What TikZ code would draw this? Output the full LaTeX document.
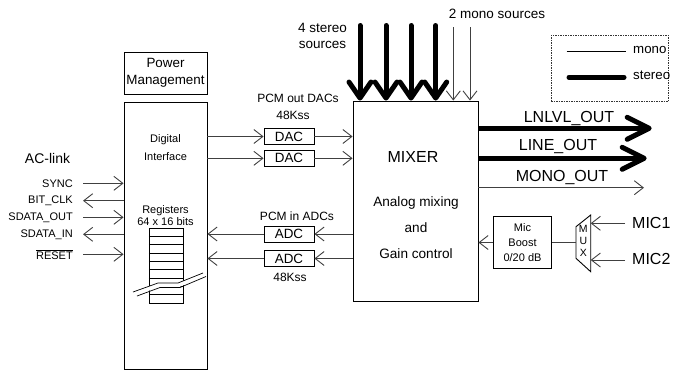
\documentclass[tikz,border=0pt]{standalone}
\usepackage{fontspec}
\setmainfont{Liberation Sans}
\usetikzlibrary{arrows.meta}
\newcommand\fsz[2]{\fontsize{#1}{#2}\selectfont}
\begin{document}
\begin{tikzpicture}[x=1pt,y=-1pt,
  box/.style={draw=black, line width=0.9pt, inner sep=0pt},
  txt/.style={inner sep=0pt, align=center},
  sig/.style={draw=black!75, line width=0.9pt},
  tarr/.style={sig, -{Straight Barb[length=9pt,width=14pt]}},
  sarr/.style={draw=black, line width=5pt, -{Straight Barb[round,length=16pt,width=22pt]}},
  oarr/.style={draw=black, line width=5pt, -{Straight Barb[round,length=22pt,width=22pt]}},
]
\useasboundingbox (0,0) rectangle (679,370);

% Power management and digital interface
\node[box, minimum width=83pt, minimum height=42pt, txt, font=\fsz{13.4}{17}] (pm) at (165.5,73) {Power\\Management};
\node[box, minimum width=83pt, minimum height=267pt] (di) at (165.5,235.5) {};
\node[txt, font=\fsz{11}{18}] (ditxt) at (165.5,148) {Digital\\Interface};
\node[txt, font=\fsz{11}{12.5}] (regtxt) at (165.5,215.5) {Registers\\64 x 16 bits};

% register stack
\node[box, minimum width=34pt, minimum height=75.3pt] (regs) at (166.3,265.95) {};
\foreach \i in {1,...,8} {
  \draw[line width=0.9pt] ([yshift=-\i*8.37pt]regs.north west) -- ([yshift=-\i*8.37pt]regs.north east);
}
\fill[white] (133,292) -- (158,283) -- (178,283) -- (203,273) -- (203,277) -- (178,287.5) -- (158,287.5) -- (133,296.5) -- cycle;
\draw[line width=0.7pt] (133,292) -- (158,283) -- (178,283) -- (203,273);
\draw[line width=0.7pt] (137,296) -- (160,287.5) -- (180,287.5) -- (206,276.5);

% AC-link
\node[txt, font=\fsz{14}{16}] (aclink) at (47.5,158) {AC-link};
\foreach \nm/\y/\lab/\dir in {sync/183.3/SYNC/in, bclk/200.7/BIT\_CLK/out, sdo/217.3/SDATA\_OUT/in, sdi/234.3/SDATA\_IN/out, rst/254.3/$\overline{\mbox{RESET}}$/in} {
  \coordinate (\nm) at (83,\y);
  \node[txt, anchor=east, font=\fsz{11}{13}] (\nm lab) at (73,\y) {\lab};
}
\draw[tarr] (sync) -- (sync -| di.west);
\draw[tarr] (bclk -| di.west) -- (bclk);
\draw[tarr] (sdo) -- (sdo -| di.west);
\draw[tarr] (sdi -| di.west) -- (sdi);
\draw[tarr] (rst) -- (rst -| di.west);

% Mixer
\node[box, minimum width=125pt, minimum height=200pt] (mixer) at (415.5,201) {};
\node[txt, font=\fsz{16}{18}] (mixtxt) at (413,156.7) {MIXER};
\node[txt, font=\fsz{13.6}{26}] (mixtxt2) at (416,228) {Analog mixing\\and\\Gain control};

% DACs and ADCs
\node[txt, font=\fsz{12}{14}] (pcmout) at (298,98.3) {PCM out DACs};
\node[txt, font=\fsz{12}{14}] (ks1) at (293,115) {48Kss};
\node[box, minimum width=50pt, minimum height=16pt, font=\fsz{13.4}{15}] (dac1) at (289,136.5) {DAC};
\node[box, minimum width=50pt, minimum height=16pt, font=\fsz{13.4}{15}] (dac2) at (289,158.3) {DAC};
\node[txt, font=\fsz{12}{14}] (pcmin) at (297,216) {PCM in ADCs};
\node[box, minimum width=50pt, minimum height=16pt, font=\fsz{13.4}{15}] (adc1) at (289,234) {ADC};
\node[box, minimum width=50pt, minimum height=16pt, font=\fsz{13.4}{15}] (adc2) at (289,258.5) {ADC};
\node[txt, font=\fsz{12}{14}] (ks2) at (290,277.3) {48Kss};

\draw[tarr] (di.east |- dac1) -- (dac1.west);
\draw[tarr] (dac1.east) -- (dac1 -| mixer.west);
\draw[tarr] (di.east |- dac2) -- (dac2.west);
\draw[tarr] (dac2.east) -- (dac2 -| mixer.west);
\draw[tarr] (adc1 -| mixer.west) -- (adc1.east);
\draw[tarr] (adc1.west) -- (adc1 -| di.east);
\draw[tarr] (adc2 -| mixer.west) -- (adc2.east);
\draw[tarr] (adc2.west) -- (adc2 -| di.east);

% Inputs from the top
\node[txt, font=\fsz{13.5}{15.7}] (st4) at (322.5,36) {4 stereo\\sources};
\node[txt, font=\fsz{13.5}{15.7}] (mono2) at (497,14) {2 mono sources};
\foreach \nm/\x in {s1/360, s2/386, s3/411, s4/435.7} {
  \coordinate (\nm) at (\x,25.5);
  \draw[sarr, line cap=round] (\nm) -- (\nm |- mixer.north);
}
\foreach \nm/\x in {m1/453.3, m2/470} {
  \coordinate (\nm) at (\x,27);
  \draw[tarr] (\nm) -- (\nm |- mixer.north);
}

% Outputs
\coordinate (lnlvl) at (651.7,128.3);
\coordinate (lineout) at (646.7,158.3);
\coordinate (monoout) at (644,187.7);
\draw[oarr] (lnlvl -| mixer.east) -- (lnlvl);
\draw[oarr] (lineout -| mixer.east) -- (lineout);
\draw[tarr] (monoout -| mixer.east) -- (monoout);
\node[txt, font=\fsz{16}{18}] (lnlvllab) at (569,118.3) {LNLVL\_OUT};
\node[txt, font=\fsz{16}{18}] (lineoutlab) at (558,146.7) {LINE\_OUT};
\node[txt, font=\fsz{16}{18}] (monooutlab) at (562,177) {MONO\_OUT};

% Legend
\node[draw=black!80, line width=0.5pt, dash pattern=on 1.5pt off 1pt, minimum width=117pt, minimum height=66.5pt, inner sep=0pt] (legend) at (609.5,68.25) {};
\draw[line width=0.8pt] (566.7,51.7) -- (626,51.7);
\draw[line width=5pt, line cap=round] (569,77.3) -- (624,77.3);
\node[txt, anchor=west, font=\fsz{13.3}{15}] (monolab) at (633,49.5) {mono};
\node[txt, anchor=west, font=\fsz{13.3}{15}] (stereolab) at (633,75.5) {stereo};

% Mic boost and MUX
\node[box, minimum width=58.5pt, minimum height=51.5pt, txt, font=\fsz{11}{14.8}] (mb) at (522.5,242.5) {Mic\\Boost\\0/20 dB};
\draw[line width=0.9pt] (576,226.7) -- (590.7,215) -- (590.7,271.7) -- (576,258.3) -- cycle;
\coordinate (muxL) at (576,242.5);
\coordinate (muxR) at (590.7,242.5);
\node[txt, font=\fsz{10.5}{11.7}] (muxtxt) at (583.3,241) {M\\U\\X};
\draw[sig] (mb.east) -- (muxL);
\draw[tarr] (mb.west) -- (mb -| mixer.east);
\coordinate (mic1) at (625,223.3);
\coordinate (mic2) at (625,260);
\draw[tarr] (mic1) -- (mic1 -| muxR);
\draw[tarr] (mic2) -- (mic2 -| muxR);
\node[txt, anchor=west, font=\fsz{16}{18}] (mic1lab) at (632,222.7) {MIC1};
\node[txt, anchor=west, font=\fsz{16}{18}] (mic2lab) at (632,259) {MIC2};
\end{tikzpicture}
\end{document}
